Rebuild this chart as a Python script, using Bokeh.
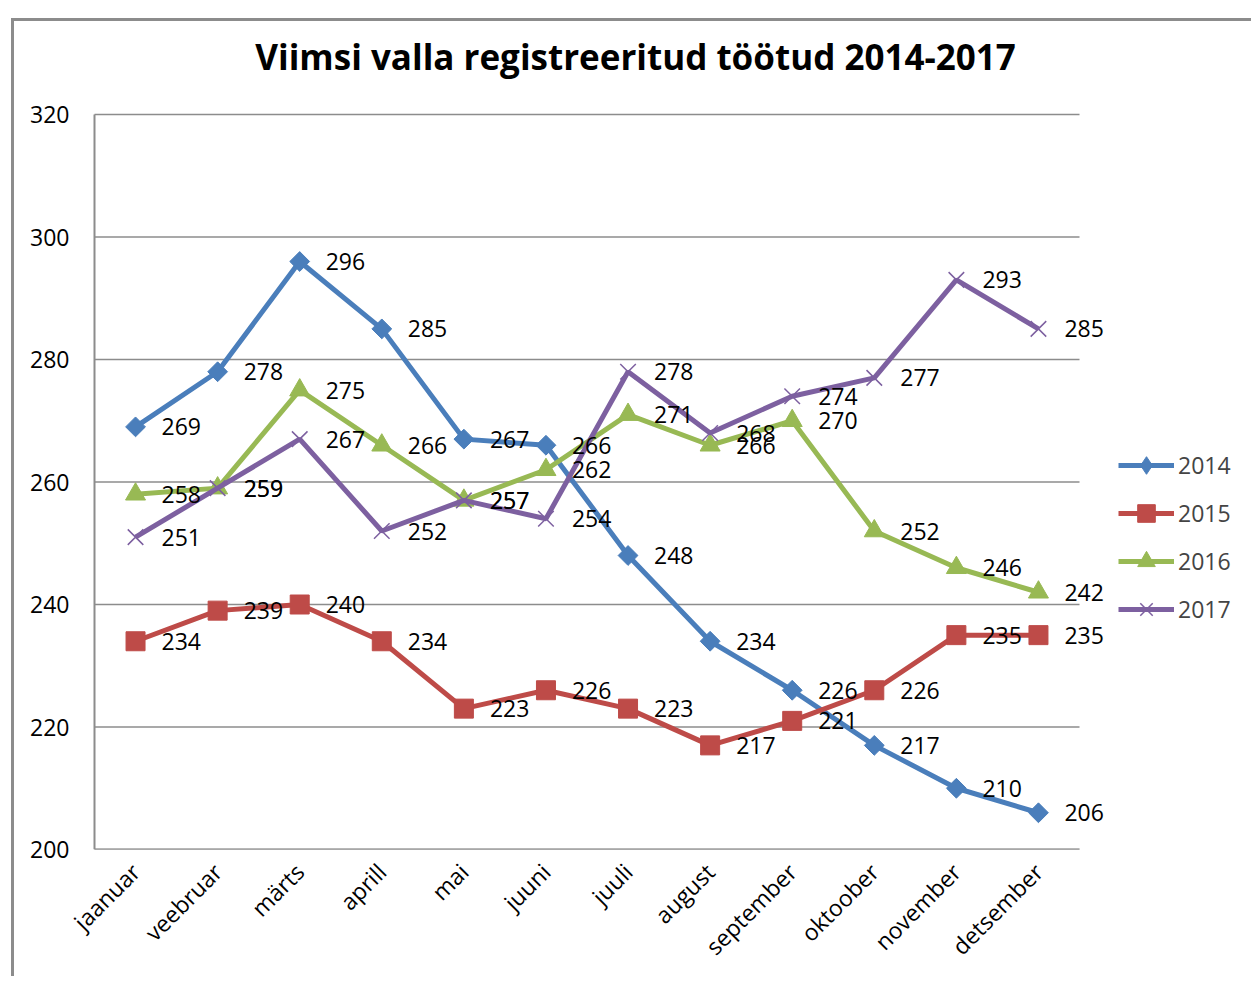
import math
from bokeh.plotting import figure
from bokeh.models import Range1d, Legend, LegendItem, FixedTicker, Label
from bokeh.core.properties import value
from bokeh.embed import file_html
from bokeh.resources import INLINE

months = ["jaanuar", "veebruar", "märts", "aprill", "mai", "juuni", "juuli",
          "august", "september", "oktoober", "november", "detsember"]
years = ["2014", "2015", "2016", "2017"]
v2014 = [269, 278, 296, 285, 267, 266, 248, 234, 226, 217, 210, 206]
v2015 = [234, 239, 240, 234, 223, 226, 223, 217, 221, 226, 235, 235]
v2016 = [258, 259, 275, 266, 257, 262, 271, 266, 270, 252, 246, 242]
v2017 = [251, 259, 267, 252, 257, 254, 278, 268, 274, 277, 293, 285]
y_ticks = [200, 220, 240, 260, 280, 300, 320]
title_text = "Viimsi valla registreeritud töötud 2014-2017"

colors = ["#4a7ebb", "#be4b48", "#98b954", "#7d60a0"]
series = [v2014, v2015, v2016, v2017]

FONT = "Open Sans"
GRID = "#8c8c8c"

n = len(months)
xs = [i + 0.5 for i in range(n)]          # category centres
cat_px = 985 / n                           # pixels per category
y_px = 735 / (y_ticks[-1] - y_ticks[0])    # pixels per unit

W, H = 1240, 958
ML, MB = 70, 130
x0 = -10 / cat_px
x1 = x0 + (W - ML) / cat_px
y1 = y_ticks[0] + (H - MB) / y_px

p = figure(x_range=Range1d(x0, x1), y_range=Range1d(y_ticks[0], y1),
           width=W, height=H, output_backend="svg", toolbar_location=None,
           min_border_left=ML, min_border_top=0, min_border_right=0,
           min_border_bottom=MB, margin=(18, 0, 0, 11),
           styles={"border-left": "3px solid #8c8c8c", "border-top": "3px solid #8c8c8c"})
p.outline_line_color = None
p.background_fill_color = "white"
p.border_fill_color = "white"
p.xgrid.grid_line_color = None
p.ygrid.grid_line_color = None

p.yaxis.ticker = FixedTicker(ticks=y_ticks)
p.xaxis.ticker = FixedTicker(ticks=xs)
p.xaxis.major_label_overrides = {x: m for x, m in zip(xs, months)}

for ax in (p.xaxis, p.yaxis):
    ax.axis_line_color = None
    ax.major_tick_line_color = None
    ax.minor_tick_line_color = None
    ax.major_label_text_font = FONT
    ax.major_label_text_font_size = "23px"
    ax.major_label_text_color = "black"
p.yaxis.major_label_standoff = 9
p.xaxis.major_label_orientation = math.pi / 4
p.xaxis.major_label_standoff = 12

# gridlines and axis lines limited to the chart's plot area
p.segment(x0=[0] * len(y_ticks), y0=y_ticks, x1=[n] * len(y_ticks), y1=y_ticks,
          line_color=GRID, line_width=1.5)
p.segment(x0=[0, 0], y0=[y_ticks[0], y_ticks[0]], x1=[0, n], y1=[y_ticks[-1], y_ticks[0]],
          line_color=GRID, line_width=2)

# title
p.add_layout(Label(x=(635 - 94) / cat_px, y=y_ticks[0] + (849 - 56) / y_px, text=title_text,
                   text_font=FONT, text_font_style="bold", text_font_size="35px",
                   text_align="center", text_baseline="middle", text_color="black"))

items = []
for i, (yr, vals, c) in enumerate(zip(years, series, colors)):
    r_line = p.line(xs, vals, line_color=c, line_width=5)
    if i == 0:
        r_m = p.scatter(xs, vals, marker="square", angle=math.pi / 4, size=14,
                        fill_color=c, line_color=c)
        # legend-only proxy, placed below the visible range
        r_leg = p.scatter([xs[0]], [y_ticks[0] - 100], marker="diamond", size=18,
                          fill_color=c, line_color=c)
    elif i == 1:
        r_m = p.scatter(xs, vals, marker="square", size=19, fill_color=c, line_color=c)
        r_leg = r_m
    elif i == 2:
        r_m = p.scatter(xs, vals, marker="triangle", size=20, fill_color=c, line_color=c)
        r_leg = r_m
    else:
        r_m = p.scatter(xs, vals, marker="x", size=22, line_color=c, line_width=1.5)
        r_leg = r_m
    items.append(LegendItem(label=yr, renderers=[r_line, r_leg]))

for vals in series:
    p.text(xs, vals, text=[str(v) for v in vals], x_offset=26,
           text_baseline="middle", text_align="left",
           text_font=value(FONT), text_font_size="23px", text_color="black")

legend = Legend(items=items, location=(1034, 218), orientation="vertical",
                glyph_width=56, glyph_height=44, spacing=4, padding=0, margin=0,
                label_standoff=4, label_text_font=FONT, label_text_font_size="23px",
                label_height=44, border_line_color=None, background_fill_alpha=0)
p.add_layout(legend, "center")

open("out.html", "w").write(file_html(p, INLINE))
